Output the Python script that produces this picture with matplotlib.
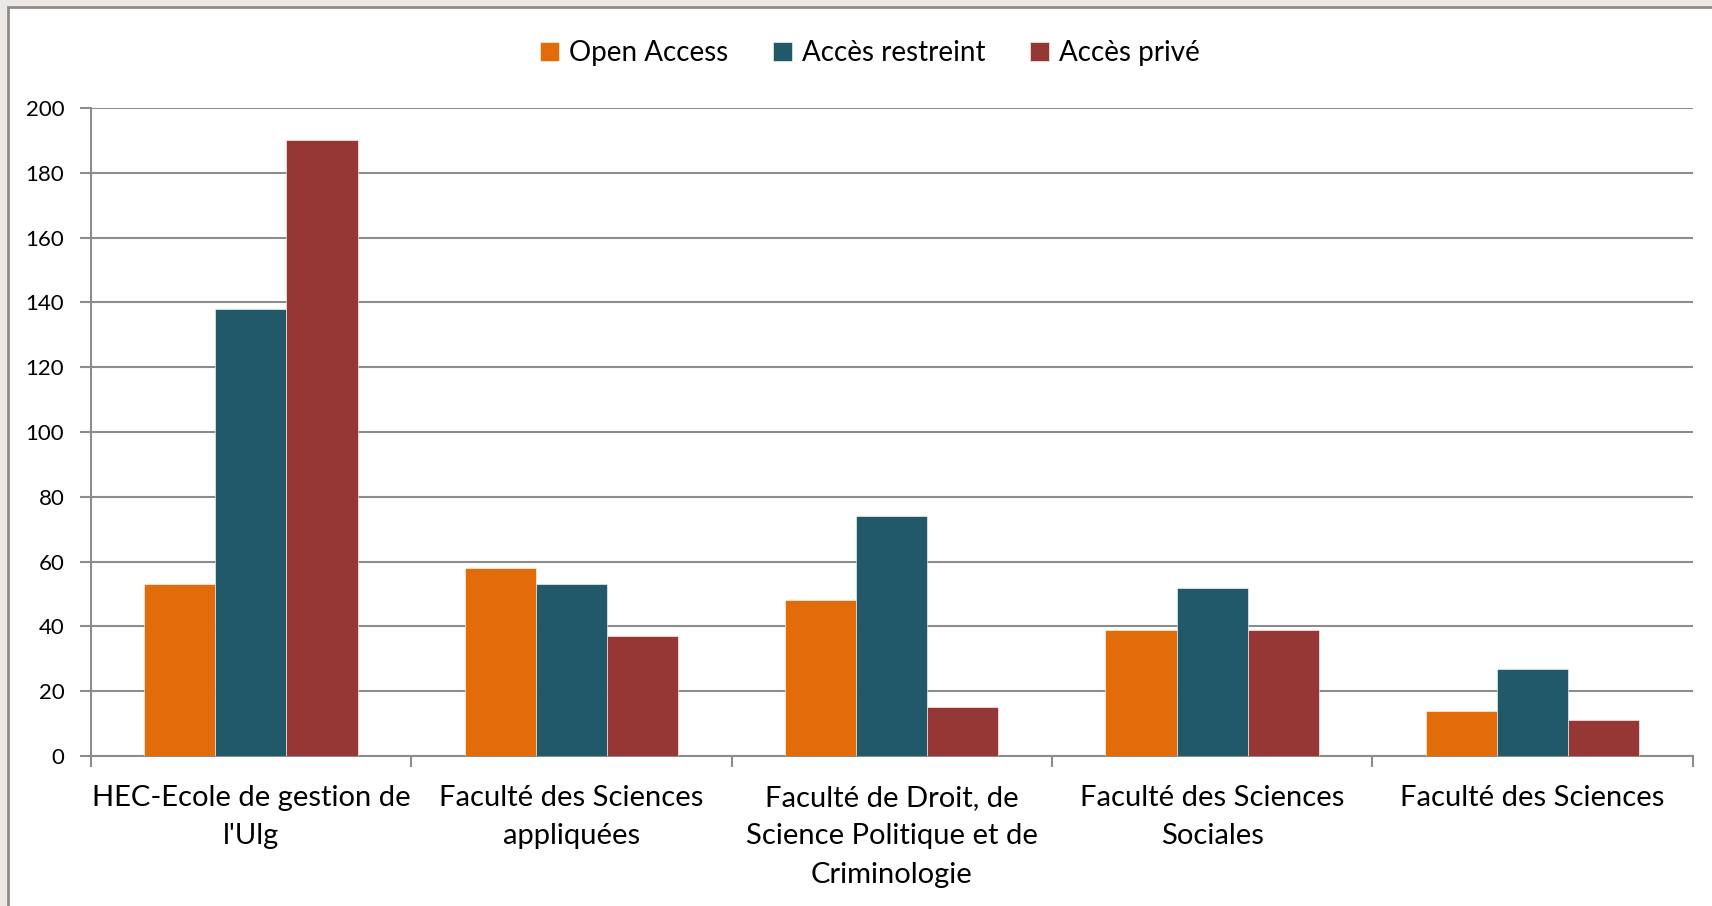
import matplotlib
matplotlib.use("Agg")
import matplotlib.pyplot as plt
import numpy as np
from matplotlib.patches import Rectangle

plt.rcParams['font.family'] = ['Lato', 'DejaVu Sans']

categories = ["HEC-Ecole de gestion de\nl'Ulg",
              "Faculté des Sciences\nappliquées",
              "Faculté de Droit, de\nScience Politique et de\nCriminologie",
              "Faculté des Sciences\nSociales",
              "Faculté des Sciences"]
series = ["Open Access", "Accès restreint", "Accès privé"]
open_access = [53, 58, 48, 39, 14]
acces_restreint = [138, 53, 74, 52, 27]
acces_prive = [190, 37, 15, 39, 11]
colors = ["#E36C0A", "#215968", "#953735"]

fig = plt.figure(figsize=(17.12, 9.06), dpi=100)
fig.patch.set_facecolor("#ece8e6")
# white chart area with grey frame (drawn below the axes)
fig.patches.append(Rectangle((8/1712, -0.05), 1.1, 1 - 7/906 + 0.05, transform=fig.transFigure,
                             facecolor="white", edgecolor="#8c8c8c", linewidth=2, zorder=-10))

ax = fig.add_axes([90.7/1712, 1 - 756/906, 1602/1712, 648/906])
ax.set_facecolor("none")

x = np.arange(len(categories))
w = 0.222
for i, (vals, name) in enumerate(zip([open_access, acces_restreint, acces_prive], series)):
    ax.bar(x + (i - 1) * w, vals, width=w, color=colors[i], label=name, zorder=3,
           edgecolor="white", linewidth=0.4)

ax.set_xlim(-0.5, len(categories) - 0.5)
ax.set_ylim(0, 200)
ax.set_yticks(np.arange(0, 201, 20))
ax.yaxis.grid(True, color="#8c8c8c", linewidth=1.5, zorder=0)
ax.set_axisbelow(True)

ax.set_xticks(x)
ax.set_xticklabels(categories, fontsize=21, linespacing=1.58)
ax.set_xticks(np.arange(-0.5, len(categories)), minor=True)
ax.tick_params(axis="x", which="major", length=0, pad=21)
ax.tick_params(axis="x", which="minor", length=8, width=1.5, color="#8c8c8c")
ax.tick_params(axis="y", length=8, width=1.5, color="#8c8c8c", labelsize=16, pad=11)

for s in ["top", "right"]:
    ax.spines[s].set_visible(False)
for s in ["left", "bottom"]:
    ax.spines[s].set_color("#8c8c8c")
    ax.spines[s].set_linewidth(1.5)

fig.legend(loc="center", bbox_to_anchor=(0.508, 0.941), ncol=3, frameon=False,
           fontsize=20, handlelength=0.7, handleheight=0.7, handletextpad=0.35,
           columnspacing=1.6)

fig.savefig("out.png", dpi=100, facecolor=fig.get_facecolor())
